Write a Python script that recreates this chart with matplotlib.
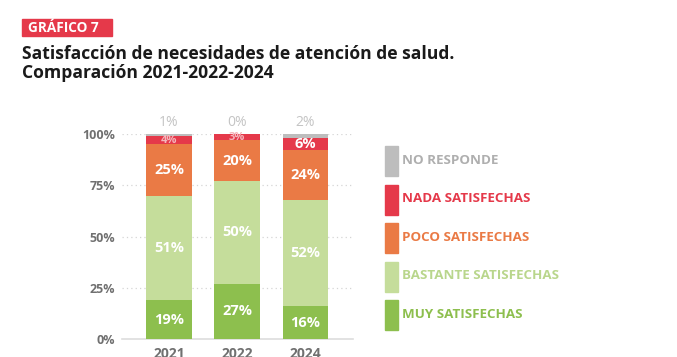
import numpy as np
import matplotlib
matplotlib.use("Agg")
import matplotlib.pyplot as plt
from matplotlib.patches import Rectangle

plt.rcParams['font.family'] = ['Open Sans', 'DejaVu Sans']

# data
years = ["2021", "2022", "2024"]
categories = ["MUY SATISFECHAS", "BASTANTE SATISFECHAS", "POCO SATISFECHAS",
              "NADA SATISFECHAS", "NO RESPONDE"]
muy = [19, 27, 16]
bastante = [51, 50, 52]
poco = [25, 20, 24]
nada = [4, 3, 6]
no_responde = [1, 0, 2]
colors = ["#8DBF4E", "#C5DD9B", "#EA7A45", "#E5394A", "#BDBDBD"]
legend_text_colors = ["#8DBF4E", "#B9D68C", "#EA7A45", "#E5394A", "#AFAFAF"]

series = [muy, bastante, poco, nada, no_responde]

fig = plt.figure(figsize=(6.77, 3.57), dpi=100)
ax = fig.add_axes([0.180, 0.0504, 0.341, 0.574])

x = np.arange(len(years))
bottom = np.zeros(len(years))
for i, (vals, col) in enumerate(zip(series, colors)):
    vals = np.array(vals, dtype=float)
    ax.bar(x, vals, 0.67, bottom=bottom, color=col, zorder=3)
    for xi, v, b in zip(x, vals, bottom):
        if i == 4:
            ax.text(xi, 102, f"{int(v)}%", ha="center", va="bottom",
                    color="#C4C4C4", fontsize=10, clip_on=False)
        elif i == 3 and v < 5:
            ax.text(xi, b + v / 2, f"{int(v)}%", ha="center", va="center",
                    color="#F4B6BC", fontsize=8, fontweight="bold", zorder=4)
        else:
            ax.text(xi, b + v / 2, f"{int(v)}%", ha="center", va="center",
                    color="white", fontsize=10.5, fontweight="bold", zorder=4)
    bottom += vals

ax.set_xlim(-0.69, 2.69)
ax.set_ylim(0, 100)
ax.set_yticks([0, 25, 50, 75, 100])
ax.set_yticklabels(["0%", "25%", "50%", "75%", "100%"], color="#707070",
                   fontsize=9, fontweight="bold")
ax.set_xticks(x)
ax.set_xticklabels(years, color="#707070", fontsize=10, fontweight="bold")
ax.tick_params(axis="both", length=0)
ax.tick_params(axis="x", pad=6)
ax.tick_params(axis="y", pad=5)
for s in ["top", "right", "left"]:
    ax.spines[s].set_visible(False)
ax.spines["bottom"].set_color("#DDDDDD")
ax.spines["bottom"].set_linewidth(1.2)
for yv in [25, 50, 75, 100]:
    ax.axhline(yv, color="#D5D5D5", linestyle=(0, (1, 2.5)), linewidth=0.9, zorder=1)

# legend, drawn by hand from the top (NO RESPONDE) down
leg_top = 1 - 146 / 357
step = 38.6 / 357
for j, k in enumerate(range(4, -1, -1)):
    y0 = leg_top - j * step
    fig.add_artist(Rectangle((385 / 677, y0 - 30 / 357), 13 / 677, 30 / 357,
                             transform=fig.transFigure, color=colors[k]))
    fig.text(402 / 677, y0 - 14 / 357, categories[k], ha="left", va="center",
             color=legend_text_colors[k], fontsize=9.6, fontweight="bold")

# badge and title
fig.add_artist(Rectangle((22 / 677, 1 - 36 / 357), 90 / 677, 17 / 357,
                         transform=fig.transFigure, color="#E5394A"))
fig.text(28 / 677, 1 - 27.5 / 357, "GRÁFICO 7", ha="left", va="center",
         color="white", fontsize=9.8, fontweight="bold")
fig.text(22 / 677, 1 - 54 / 357, "Satisfacción de necesidades de atención de salud.",
         ha="left", va="center", color="#1A1A1A", fontsize=12.6, fontweight="bold")
fig.text(22 / 677, 1 - 72.5 / 357, "Comparación 2021-2022-2024",
         ha="left", va="center", color="#1A1A1A", fontsize=12.6, fontweight="bold")

fig.savefig("out.png", dpi=100)
